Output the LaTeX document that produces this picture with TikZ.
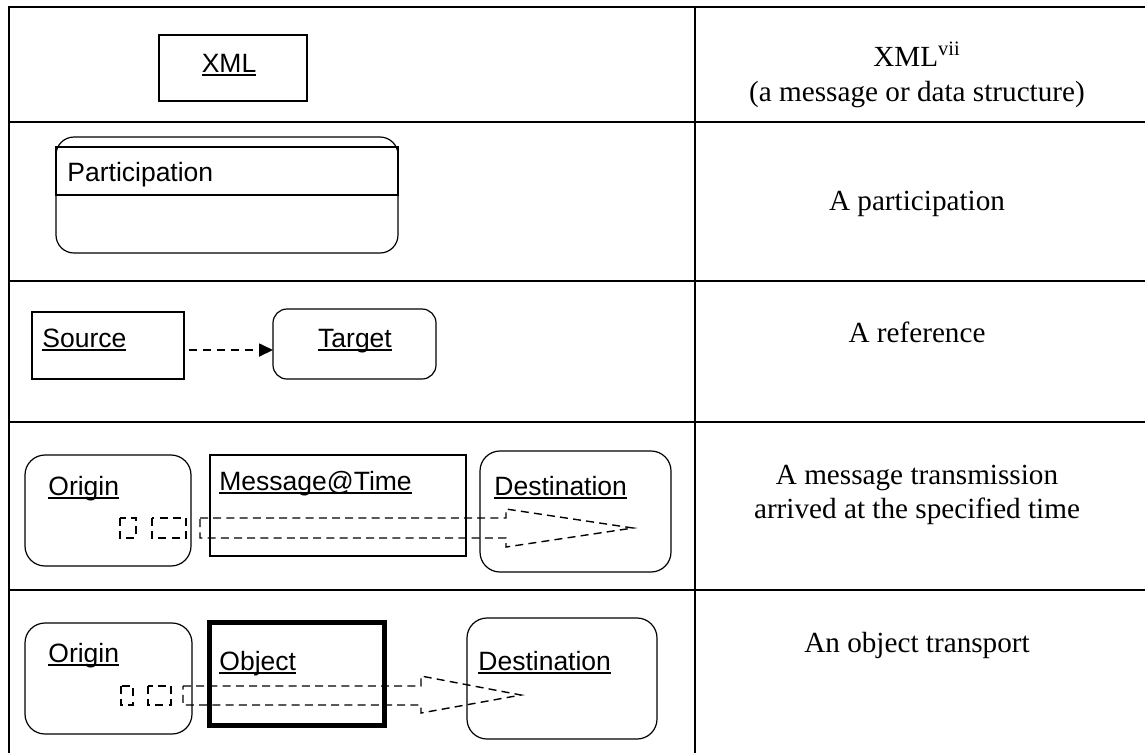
\documentclass[tikz,border=0pt]{standalone}
\usepackage{fontspec}
\setmainfont{Liberation Serif}
\setsansfont{Liberation Sans}
\usetikzlibrary{arrows.meta}
\newsavebox\ulbox
\newcommand{\ulx}[1]{\sbox\ulbox{#1}\rlap{\vrule width \wd\ulbox height -1.2pt depth 2.2pt}\usebox\ulbox}
\begin{document}
\begin{tikzpicture}[x=0.5pt,y=-0.5pt,
  tbl/.style={line width=1.1pt},
  sharpbox/.style={draw, line width=0.6pt, anchor=north west, inner sep=0pt, outer sep=0pt},
  roundbox/.style={sharpbox, rounded corners=9pt},
  thickbox/.style={sharpbox, line width=2.5pt},
  stripe/.style={draw, dash pattern=on 4pt off 2.6pt, line width=0.7pt},
  refline/.style={draw, dash pattern=on 4pt off 3pt, line width=0.9pt, -{Triangle[length=7pt,width=6.5pt]}},
  lbl/.style={font=\fontsize{13.25pt}{16pt}\sffamily, anchor=base west, inner sep=0pt},
  lblc/.style={lbl, anchor=base},
  desc/.style={font=\fontsize{14.6pt}{17pt}\rmfamily, anchor=base, inner sep=0pt}
]
\useasboundingbox (0,0) rectangle (1145,752);
\clip (0,0) rectangle (1145,752);
\fill[white] (0,0) rectangle (1145,752);
% table
\draw[tbl] (9,7) rectangle (1152,762);
\draw[tbl] (695,7) -- (695,762);
\foreach \yy in {122,281,422,590} \draw[tbl] (9,\yy) -- (1152,\yy);
% row 1
\node[sharpbox, minimum width=74pt, minimum height=33pt] (xmlbox) at (159,35) {};
\node[lblc] (xmltext) at (229,72) {\ulx{XML}};
\node[desc] (d1a) at (917,66) {XML\textsuperscript{vii}};
\node[desc] (d1b) at (917,101) {(a message or data structure)};
% row 2
\node[roundbox, minimum width=171pt, minimum height=58pt] (partbox) at (56,137) {};
\node[sharpbox, minimum width=171pt, minimum height=24pt] (parthead) at (56,147) {};
\node[lbl] (parttext) at (67,181) {Participation};
\node[desc] (d2) at (917,210) {A participation};
% row 3
\node[sharpbox, minimum width=76pt, minimum height=33.5pt] (src) at (32,312) {};
\node[lbl] (srctext) at (42,347) {\ulx{Source}};
\node[roundbox, rounded corners=7pt, minimum width=81.5pt, minimum height=35pt] (tgt) at (273,309) {};
\node[lblc] (tgttext) at (355,347) {\ulx{Target}};
\coordinate (ay) at (0,350);
\draw[refline, shorten <=2.5pt] (src.east |- ay) -- (tgt.west |- ay);
\node[desc] (d3) at (917,342) {A reference};
% row 4
\node[roundbox, rounded corners=10pt, minimum width=83pt, minimum height=55.5pt] (orig4) at (25,455) {};
\node[lbl] (orig4text) at (48,495) {\ulx{Origin}};
\node[sharpbox, minimum width=128pt, minimum height=50.5pt] (msg) at (210,455) {};
\node[lbl] (msgtext) at (219,490) {\ulx{Message@Time}};
\node[roundbox, rounded corners=10pt, minimum width=95.5pt, minimum height=60.5pt] (dest4) at (480,451) {};
\node[lbl] (dest4text) at (494,495) {\ulx{Destination}};
\draw[stripe] (120,518) rectangle (136,538);
\draw[stripe] (152,518) rectangle (186,538);
\draw[stripe] (200,518) -- (506,518) -- (506,509) -- (633,528) -- (506,547) -- (506,538) -- (200,538) -- cycle;
\node[desc] (d4a) at (917,484) {A message transmission};
\node[desc] (d4b) at (917,518) {arrived at the specified time};
% row 5
\node[roundbox, rounded corners=10pt, minimum width=83.5pt, minimum height=55.5pt] (orig5) at (25,623) {};
\node[lbl] (orig5text) at (48,662) {\ulx{Origin}};
\draw[stripe] (121,686) rectangle (133,705);
\draw[stripe] (148,686) rectangle (171,705);
\draw[stripe] (183,686) -- (421,686) -- (421,676) -- (521,695) -- (421,713) -- (421,705) -- (183,705) -- cycle;
\node[thickbox, minimum width=87.5pt, minimum height=51.5pt] (obj) at (209,622) {};
\node[lbl] (objtext) at (219,670) {\ulx{Object}};
\node[roundbox, rounded corners=10pt, minimum width=95pt, minimum height=60.5pt] (dest5) at (467,618) {};
\node[lbl] (dest5text) at (478,670) {\ulx{Destination}};
\node[desc] (d5) at (917,652) {An object transport};
\end{tikzpicture}
\end{document}
